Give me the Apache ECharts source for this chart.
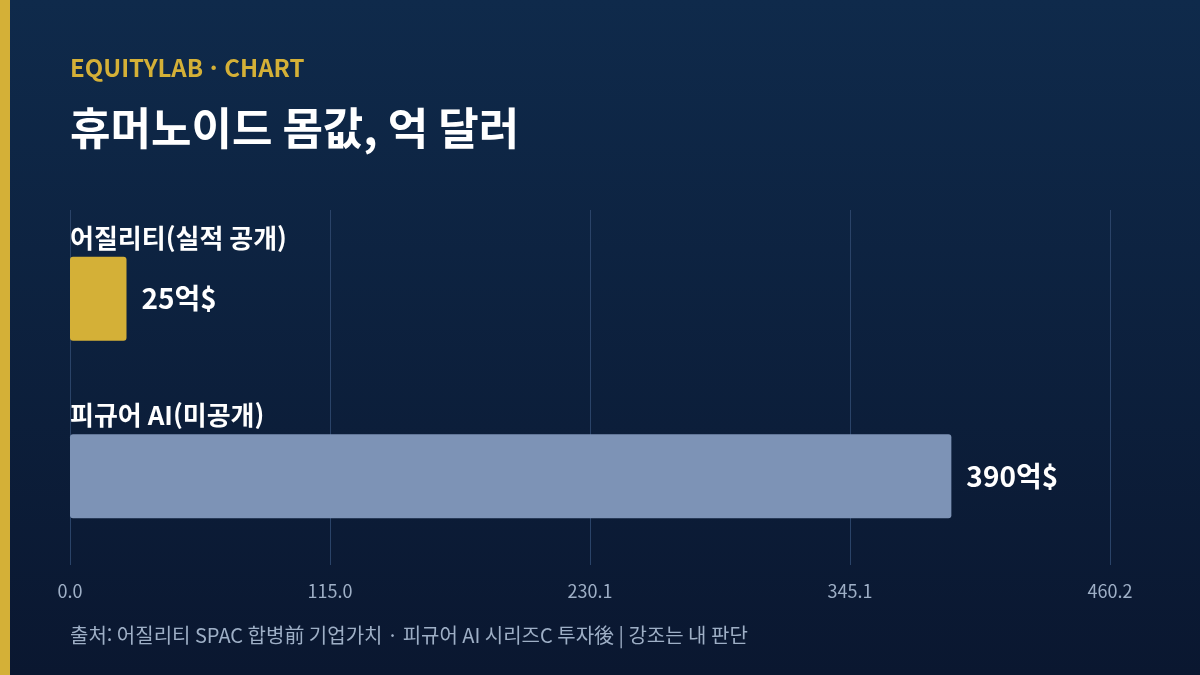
<!DOCTYPE html>
<html lang="ko">
<head>
<meta charset="UTF-8">
<title>휴머노이드 몸값</title>
<script src="https://cdn.jsdelivr.net/npm/echarts@6/dist/echarts.min.js"></script>
<style>
  html, body { margin: 0; padding: 0; }
  #main { width: 1200px; height: 675px; }
</style>
</head>
<body>
<div id="main"></div>
<script>
var categories = ['어질리티(실적 공개)', '피규어 AI(미공개)'];
var values = [25, 390];
var valueLabels = ['25억$', '390억$'];
var barColors = ['#d4b037', '#7d93b6'];
var axisMax = 460.2;
var axisStep = 115.05;

var font = '"Noto Sans CJK KR", "Noto Sans", sans-serif';
var chart = echarts.init(document.getElementById('main'));

var option = {
    backgroundColor: {
        type: 'linear', x: 0, y: 0, x2: 0, y2: 1,
        colorStops: [{ offset: 0, color: '#0f2a4b' }, { offset: 1, color: '#0a1730' }]
    },
    textStyle: { fontFamily: font },
    graphic: [
        { type: 'rect', left: 0, top: 0, shape: { width: 10, height: 675 }, style: { fill: '#d4b037' } },
        { type: 'text', left: 70, top: 56, style: { text: 'EQUITYLAB · CHART', fill: '#d4b037', font: 'bold 24px ' + font } },
        { type: 'text', left: 70, top: 106, style: { text: '휴머노이드 몸값, 억 달러', fill: '#ffffff', font: 'bold 44px ' + font } },
        { type: 'text', left: 70, top: 625, style: { text: '출처: 어질리티 SPAC 합병前 기업가치 · 피규어 AI 시리즈C 투자後 | 강조는 내 판단', fill: '#9eafc6', font: '20px ' + font } }
    ],
    grid: { left: 70, right: 90, top: 210, bottom: 110 },
    xAxis: {
        type: 'value', min: 0, max: axisMax, interval: axisStep,
        axisLine: { show: false }, axisTick: { show: false },
        splitLine: { lineStyle: { color: '#2a4368', width: 1 } },
        axisLabel: { color: '#9eafc6', fontSize: 18, margin: 17, formatter: function (v) { return v.toFixed(1); } }
    },
    yAxis: {
        type: 'category', data: categories, inverse: true,
        axisLine: { show: false }, axisTick: { show: false }, axisLabel: { show: false }
    },
    series: [{
        type: 'bar', barWidth: 84,
        data: values.map(function (v, i) {
            return { value: v, itemStyle: { color: barColors[i], borderRadius: 3 } };
        }),
        label: {
            show: true, position: 'right', distance: 15, color: '#ffffff',
            fontSize: 28, fontWeight: 'bold',
            formatter: function (p) { return valueLabels[p.dataIndex]; }
        }
    }, {
        type: 'bar', barWidth: 84, barGap: '-100%', silent: true,
        data: values.map(function (v) { return { value: v, itemStyle: { color: 'rgba(0,0,0,0)' } }; }),
        label: {
            show: true, position: [0, -32], color: '#ffffff',
            fontSize: 26, fontWeight: 'bold',
            formatter: function (p) { return categories[p.dataIndex]; }
        }
    }]
};
chart.setOption(option);
</script>
</body>
</html>
